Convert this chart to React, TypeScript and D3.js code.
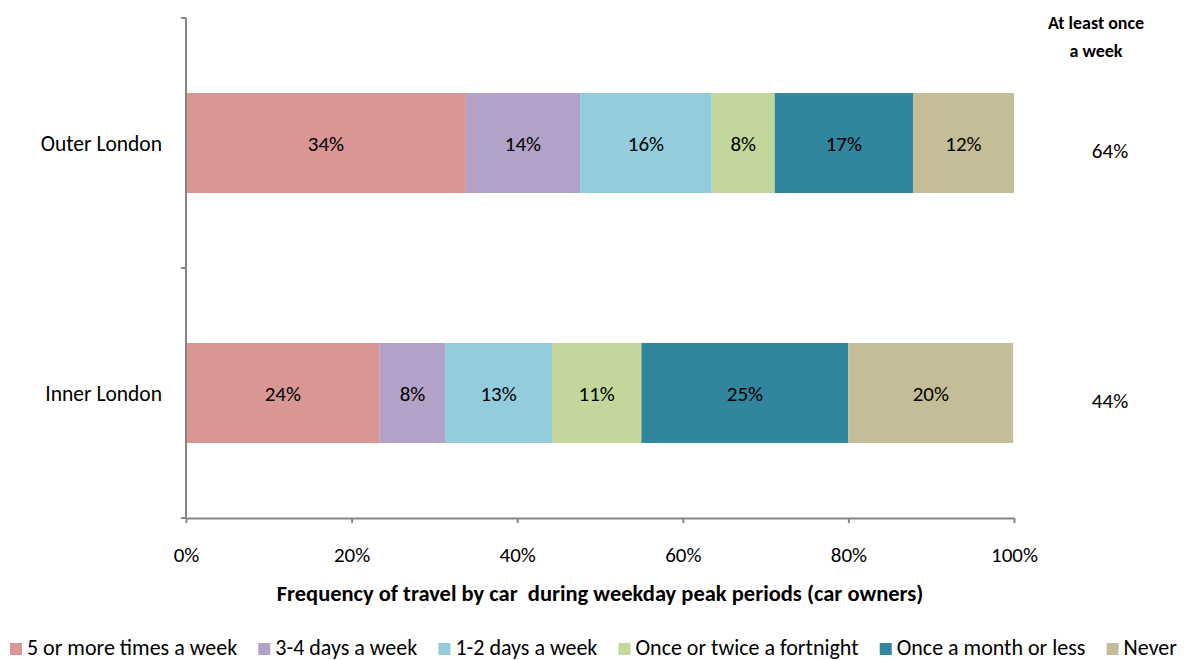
import * as d3 from "d3";
import { useRef, useEffect } from "react";

const width = 1184;
const height = 660;
const marginTop = 18;
const marginLeft = 186;
const plotRight = 1014;
const plotBottom = 518;

const font = "Carlito, Calibri, Lato, sans-serif";

const categories = ["Outer London", "Inner London"];
const seriesNames = [
  "5 or more times a week",
  "3-4 days a week",
  "1-2 days a week",
  "Once or twice a fortnight",
  "Once a month or less",
  "Never",
];
const colors = ["#D99694", "#B3A2C7", "#93CDDD", "#C3D69B", "#31859C", "#C4BD97"];
const outerValues = [33.8, 13.8, 15.9, 7.6, 16.7, 12.2];
const innerValues = [23.4, 7.9, 12.9, 10.8, 25.0, 19.9];
const outerLabels = ["34%", "14%", "16%", "8%", "17%", "12%"];
const innerLabels = ["24%", "8%", "13%", "11%", "25%", "20%"];
const weeklyTotals = ["64%", "44%"];
const xTicks = [0, 20, 40, 60, 80, 100];

const rows = [
  { cat: categories[0], values: outerValues, labels: outerLabels },
  { cat: categories[1], values: innerValues, labels: innerLabels },
];

const axisColor = "#868686";
const numSize = 21;

const App = () => {
  const gx = useRef<SVGGElement>(null);
  const gy = useRef<SVGGElement>(null);

  const x = d3.scaleLinear().domain([0, 100]).range([marginLeft, plotRight]);
  const y = d3
    .scaleBand()
    .domain(categories)
    .range([marginTop, plotBottom])
    .paddingInner(0)
    .paddingOuter(0);
  const barH = y.bandwidth() * 0.4;

  useEffect(() => {
    if (gx.current) {
      const g = d3.select(gx.current);
      g.call(
        d3
          .axisBottom(x)
          .tickValues(xTicks)
          .tickFormat((d) => `${d}%`)
          .tickSize(5)
          .tickSizeOuter(0)
          .tickPadding(24)
      );
      g.selectAll("path, line").attr("stroke", axisColor).attr("stroke-width", 2);
      g.selectAll("text")
        .attr("fill", "#000")
        .style("font-family", font)
        .style("font-size", `${numSize}px`);
    }
    if (gy.current) {
      const g = d3.select(gy.current);
      const ticks = [marginTop, marginTop + y.bandwidth(), plotBottom];
      g.append("line")
        .attr("x1", 0)
        .attr("x2", 0)
        .attr("y1", marginTop)
        .attr("y2", plotBottom)
        .attr("stroke", axisColor)
        .attr("stroke-width", 2);
      g.selectAll("line.tk")
        .data(ticks)
        .join("line")
        .attr("class", "tk")
        .attr("x1", -5)
        .attr("x2", 0)
        .attr("y1", (d) => d)
        .attr("y2", (d) => d)
        .attr("stroke", axisColor)
        .attr("stroke-width", 2);
    }
    return () => {
      if (gx.current) d3.select(gx.current).selectAll("*").remove();
      if (gy.current) d3.select(gy.current).selectAll("*").remove();
    };
  }, []);

  // legend: measure texts, then spread the items across the bottom
  const legendFont = 22;
  const ctx = document.createElement("canvas").getContext("2d")!;
  ctx.font = `${legendFont}px ${font}`;
  const widths = seriesNames.map((n) => 17 + ctx.measureText(n).width);
  const gap = (1177 - 10 - d3.sum(widths)) / (seriesNames.length - 1);
  let lx = 10;
  const legendItems = seriesNames.map((name, i) => {
    const item = { name, color: colors[i], x: lx };
    lx += widths[i] + gap;
    return item;
  });

  return (
    <svg width={width} height={height} style={{ position: "absolute", left: 0, top: 0 }}>
      {rows.map((r, ri) => {
        const cum = d3.cumsum(r.values);
        const yc = (y(r.cat) as number) + y.bandwidth() / 2;
        return (
          <g key={r.cat}>
            {r.values.map((v, i) => {
              const x0 = x(cum[i] - v);
              const x1 = x(cum[i]);
              return (
                <g key={i}>
                  <rect x={x0} y={yc - barH / 2} width={x1 - x0} height={barH} fill={colors[i]} />
                  <text
                    x={(x0 + x1) / 2}
                    y={yc}
                    dy="0.36em"
                    textAnchor="middle"
                    fontFamily={font}
                    fontSize={numSize}
                  >
                    {r.labels[i]}
                  </text>
                </g>
              );
            })}
            <text x={162} y={yc} dy="0.36em" textAnchor="end" fontFamily={font} fontSize={21.5}>
              {r.cat}
            </text>
            <text
              x={1110}
              y={yc + 7}
              dy="0.36em"
              textAnchor="middle"
              fontFamily={font}
              fontSize={numSize}
            >
              {weeklyTotals[ri]}
            </text>
          </g>
        );
      })}

      <g ref={gx} transform={`translate(0, ${plotBottom})`} />
      <g ref={gy} transform={`translate(${marginLeft}, 0)`} />

      <text x={1096} y={29} textAnchor="middle" fontFamily={font} fontSize={18} fontWeight="bold">
        At least once
      </text>
      <text x={1096} y={57} textAnchor="middle" fontFamily={font} fontSize={18} fontWeight="bold">
        a week
      </text>

      <text
        x={600}
        y={601}
        textAnchor="middle"
        fontFamily={font}
        fontSize={22.5}
        fontWeight="bold"
        style={{ whiteSpace: "pre" }}
      >
        Frequency of travel by car  during weekday peak periods (car owners)
      </text>

      {legendItems.map((it) => (
        <g key={it.name}>
          <rect x={it.x} y={643} width={12} height={12} fill={it.color} />
          <text x={it.x + 17} y={655} fontFamily={font} fontSize={legendFont}>
            {it.name}
          </text>
        </g>
      ))}
    </svg>
  );
};

export default App;
